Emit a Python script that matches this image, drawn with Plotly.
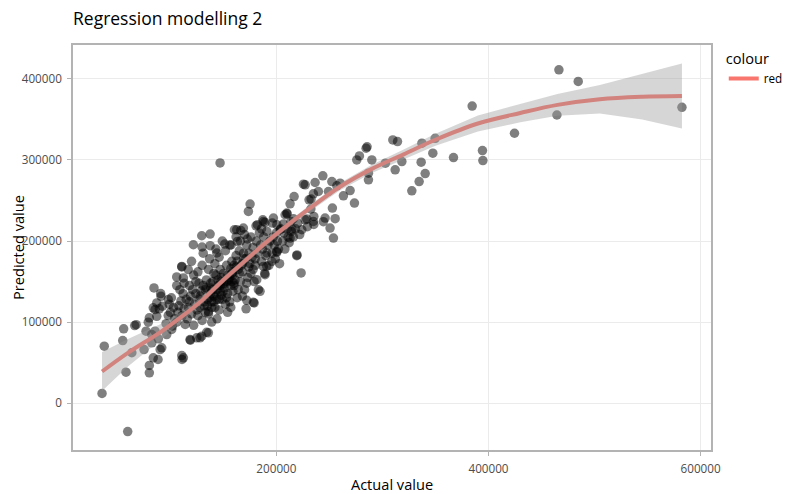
import plotly.graph_objects as go

# observed points, in thousands (actual, predicted)
actual_k = [
    35.6, 37.7, 59.8, 58.2, 55.1, 56.0, 66.4, 67.8, 63.7, 75.2, 80.2, 80.2, 83.9, 88.4, 91.9, 90.4,
    88.7, 82.5, 80.2, 84.6, 91.2, 110.8, 112.3, 111.0, 118.6, 128.0, 135.9, 171.4, 179.0, 219.2,
    223.3, 200.4, 190.9, 106.0, 110.8, 82.5, 77.1, 85.6, 79.2, 87.2, 83.9, 89.6, 87.2, 90.9, 96.6,
    101.3, 118.9, 124.9, 129.6, 134.3, 146.9,
    121.7, 129.6, 137.5, 137.5, 129.9, 151.3, 157.3, 163.2, 172.6, 160.4, 166.4, 175.2, 173.6,
    180.8, 187.7, 197.2, 209.8, 212.9, 216.7, 208.2, 200.4, 110.8, 116.9, 106.0, 112.3, 92.5,
    85.6, 98.1, 143.8,
    227.1, 236.5, 243.8, 249.1, 252.3, 260.1, 257.0, 269.5, 273.6, 275.8, 278.3, 284.6, 285.5,
    290.0, 286.8, 286.8, 302.8, 309.8, 314.2, 312.0, 253.8, 250.6, 245.9, 255.4, 234.9, 228.7,
    239.6, 234.9, 230.8, 232.7, 225.5, 252.8, 263.2, 244.3, 235.3, 235.3, 229.2, 224.0, 227.1,
    232.5, 210.1, 216.0, 213.6, 214.8, 212.9, 219.5, 206.6, 203.5, 196.2, 187.2, 162.6, 168.9,
    182.1, 189.3,
    318.3, 337.2, 349.7, 347.5, 336.5, 340.3, 334.6, 327.7, 367.0, 394.3, 394.7, 384.6, 424.5,
    464.5, 466.4, 484.6, 582.4,
    200.4, 191.0, 172.1, 178.3, 184.6, 181.5, 189.3, 187.7, 195.7,
    96, 98, 100, 102, 103, 104, 99, 101,
    106, 107, 108, 110, 111, 112, 113, 114, 109, 115, 113,
    116, 117, 118, 119, 120, 121, 122, 123, 124, 118, 125, 122, 120, 124,
    126, 127, 128, 129, 130, 131, 132, 133, 134, 126, 128, 130, 133, 135, 127, 131,
    136, 137, 138, 139, 140, 141, 142, 143, 144, 136, 138, 140, 142, 144, 137, 141, 145, 139, 143,
    146, 147, 148, 149, 150, 151, 152, 153, 154, 146, 148, 150, 152, 154, 147, 155, 149, 153,
    156, 157, 158, 159, 160, 161, 162, 163, 164, 156, 158, 160, 162, 164, 157, 165, 159,
    166, 167, 168, 169, 170, 171, 172, 173, 174, 166, 168, 170, 172, 174, 175,
    176, 177, 178, 179, 180, 181, 182, 183, 184, 176, 178, 180, 185,
    186, 187, 188, 189, 190, 191, 192, 193, 194, 186,
    196, 197, 198, 199, 200, 201, 202, 204, 203,
    206, 207, 208, 210, 211, 212, 214,
    216, 218, 220, 222,
    # extra points in the darkest part of the cloud
    132, 135, 138, 141, 144, 147, 150, 153, 156, 159, 162, 165, 168, 134, 139, 145, 151, 157,
    163, 169, 142, 148, 154, 160, 136, 146, 158,
]
predicted_k = [
    11.9, 70.2, -35.2, 38.2, 77.2, 91.6, 95.7, 96.8, 62.1, 66.1, 37.4, 46.4, 55.9, 53.8, 68.2, 66.0,
    79.3, 74.4, 105.2, 142.1, 131.8, 58.7, 55.9, 53.8, 78.4, 80.5, 86.7, 116.3, 123.6, 181.9,
    160.6, 186.0, 168.7, 145.0, 168.7, 84.6, 88.7, 88.7, 99.8, 107.1, 117.5, 116.3, 123.6, 135.1, 84.6,
    90.8, 77.6, 80.5, 82.5, 87.4, 296.4,
    195.4, 206.5, 208.6, 194.2, 192.6, 196.3, 195.1, 199.5, 202.5, 213.9, 213.1, 245.6, 236.5,
    218.8, 224.1, 228.3, 234.5, 245.9, 254.9, 232.4, 220.1, 168.0, 164.7, 155.7, 154.4, 119.5,
    115.4, 127.7, 185.2,
    269.3, 272.2, 280.4, 261.1, 273.4, 271.4, 268.1, 262.3, 246.8, 300.1, 305.0, 314.5, 316.2,
    300.1, 275.5, 283.7, 296.0, 324.8, 322.7, 287.8, 203.7, 216.0, 228.3, 227.5, 224.1, 227.1,
    261.1, 258.3, 250.9, 251.7, 270.2, 240.6, 255.8, 223.8, 230.3, 220.5, 217.6, 213.9, 226.2,
    239.4, 233.6, 227.5, 224.1, 214.8, 203.7, 182.8, 220.9, 213.9, 222.2, 226.2, 213.9, 216.0,
    220.1, 222.9,
    298.0, 320.7, 326.8, 308.4, 297.3, 283.3, 273.4, 261.9, 303.0, 311.6, 299.3, 366.6, 333.0,
    355.5, 411.3, 397.0, 365.0,
    187.2, 185.2, 126.8, 124.4, 137.9, 152.3, 158.5, 168.7, 174.9,
    98, 108, 112, 95, 118, 104, 122, 130,
    100, 112, 120, 126, 108, 135, 116, 97, 140, 128, 148,
    104, 118, 125, 132, 110, 140, 96, 122, 150, 145, 115, 158, 175, 135,
    108, 128, 118, 138, 102, 145, 125, 112, 152, 162, 132, 170, 140, 120, 148, 185,
    110, 130, 142, 118, 150, 125, 135, 158, 104, 165, 148, 140, 172, 128, 178, 160, 145, 100, 190,
    115, 138, 150, 128, 160, 142, 122, 170, 135, 180, 155, 148, 188, 112, 165, 152, 200, 130,
    125, 145, 160, 138, 170, 152, 182, 130, 165, 195, 175, 148, 205, 140, 118, 188, 158,
    150, 170, 162, 185, 140, 178, 195, 155, 168, 200, 132, 208, 148, 185, 172,
    160, 180, 192, 150, 170, 200, 185, 140, 210, 205, 165, 178, 195,
    175, 190, 205, 160, 182, 212, 195, 170, 200, 215,
    185, 205, 195, 178, 210, 200, 190, 215, 172,
    200, 210, 190, 215, 205, 198, 212,
    205, 215, 222, 208,
    120, 128, 135, 132, 140, 145, 138, 150, 155, 162, 168, 160, 172, 142, 125, 152, 147, 166,
    175, 178, 118, 133, 158, 145, 113, 128, 150,
]

# loess fit with its confidence band, in thousands
fit_x_k = [35.6, 60, 90, 110, 130, 150, 170, 190, 210, 230, 260, 290, 320, 350, 390, 430, 465, 505, 545, 582.4]
fit_y_k = [39, 62, 87, 106, 127, 152, 175, 198, 219, 239, 267, 289, 307, 325, 345, 358, 368, 375, 378, 379]
fit_lo_k = [15, 45, 77, 100, 122.5, 148, 171, 194, 215, 235, 262.5, 284, 301, 317.5, 335, 346.5, 354.5, 357.5, 350, 339]
fit_hi_k = [63, 79, 97, 112, 131.5, 156, 179, 202, 223, 243, 271.5, 294, 313, 332.5, 355, 369.5, 381.5, 392.5, 406, 419]

actual = [v * 1000 for v in actual_k]
predicted = [v * 1000 for v in predicted_k]
fit_x = [v * 1000 for v in fit_x_k]
fit_y = [v * 1000 for v in fit_y_k]
fit_lo = [v * 1000 for v in fit_lo_k]
fit_hi = [v * 1000 for v in fit_hi_k]

x_ticks = [200000, 400000, 600000]
y_ticks = [0, 100000, 200000, 300000, 400000]

fig = go.Figure()

fig.add_trace(go.Scatter(
    x=actual, y=predicted, mode="markers",
    marker=dict(color="rgba(0,0,0,0.5)", size=9.5, line=dict(width=0)),
    showlegend=False, hoverinfo="x+y",
))

fig.add_trace(go.Scatter(
    x=fit_x, y=fit_y, mode="lines", name="red",
    line=dict(color="#F8766D", width=4, shape="spline"),
))

# confidence band drawn over the line, like ggplot does
fig.add_trace(go.Scatter(
    x=fit_x + fit_x[::-1], y=fit_hi + fit_lo[::-1],
    mode="lines", fill="toself", fillcolor="rgba(153,153,153,0.4)",
    line=dict(width=0), showlegend=False, hoverinfo="skip",
))

axis_common = dict(
    showline=True, mirror=True, linecolor="#B3B3B3", linewidth=1.6,
    showgrid=True, gridcolor="#EBEBEB", gridwidth=1, zeroline=False,
    ticks="outside", ticklen=4, tickcolor="#B3B3B3", automargin=False,
    ticklabelstandoff=3,
    tickfont=dict(size=11.7, color="#4D4D4D"),
)

fig.update_xaxes(
    range=[8222, 609794], tickvals=x_ticks, ticktext=[str(v) for v in x_ticks],
    title=dict(text="Actual value", font=dict(size=14.6, color="#000000"), standoff=7),
    **axis_common,
)
fig.update_yaxes(
    range=[-57900, 441900], tickvals=y_ticks, ticktext=[str(v) for v in y_ticks],
    title=dict(text="Predicted value", font=dict(size=14.6, color="#000000"), standoff=7),
    **axis_common,
)

# the page body adds 8px around the figure, so the figure is 8px smaller on each side
fig.update_layout(
    width=792, height=486,
    margin=dict(l=65, r=89, t=37, b=44, autoexpand=False),
    paper_bgcolor="white", plot_bgcolor="white",
    title=dict(text="Regression modelling 2", x=0, xref="paper", xanchor="left",
               y=0.977, yref="container", yanchor="middle",
               font=dict(size=17.5, color="#000000")),
    legend=dict(title=dict(text="colour", font=dict(size=14.6)), font=dict(size=11.7),
                x=1.02, y=1, xanchor="left", yanchor="top", bgcolor="rgba(0,0,0,0)"),
    font=dict(color="#000000"),
)

fig.write_html("out.html")
